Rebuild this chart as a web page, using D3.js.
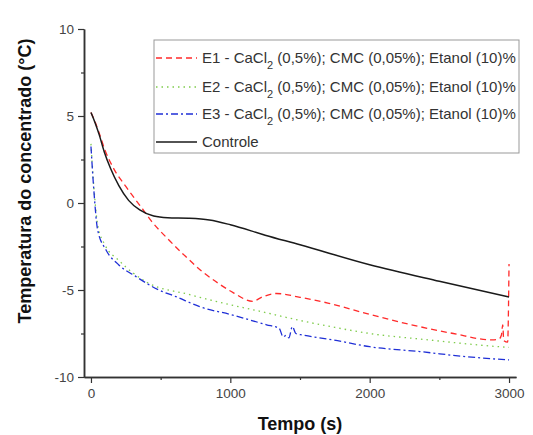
<!DOCTYPE html>
<html>
<head>
<meta charset="utf-8">
<script src="https://cdn.jsdelivr.net/npm/d3@7"></script>
<style>
  body { margin: 0; background: #fff; }
  svg { display: block; font-family: 'Liberation Sans', Arial, sans-serif; }
</style>
</head>
<body>
<svg id="chart" width="533" height="435"></svg>
<script>
// Series: [tempo (s), temperatura (°C)]
const controle = [[0, 5.2], [30, 4.6], [60, 3.9], [95, 2.95], [140, 2.0], [200, 1.0], [270, 0.15], [350, -0.4],
    [450, -0.75], [550, -0.85], [700, -0.88], [850, -0.98], [1000, -1.25], [1250, -1.85], [1500, -2.4],
    [2000, -3.55], [2500, -4.5], [3000, -5.4]];
const e1 = [[0, 5.2], [30, 4.65], [60, 4.0], [100, 3.05], [165, 1.95], [250, 0.95], [380, -0.45], [430, -1.0],
    [550, -2.05], [680, -3.08], [800, -3.95], [920, -4.65], [1020, -5.15], [1160, -5.65], [1230, -5.4],
    [1330, -5.2], [1500, -5.42], [1700, -5.75], [2000, -6.4], [2300, -7.0], [2600, -7.5], [2880, -7.87],
    [2930, -7.8], [2945, -7.6], [2955, -7.0], [2962, -7.9], [2990, -8.0], [3000, -3.5]];
const e2 = [[0, 3.4], [20, 1.0], [50, -1.35], [100, -2.4], [200, -3.3], [400, -4.55], [700, -5.25],
    [1000, -5.85], [1200, -6.2], [1500, -6.75], [1750, -7.15], [2000, -7.5], [2400, -7.85], [2930, -8.26],
    [3000, -8.3]];
const e3 = [[0, 3.25], [20, 0.8], [48, -1.55], [108, -2.7], [200, -3.56], [323, -4.23], [487, -5.0],
    [609, -5.38], [780, -5.96], [1018, -6.44], [1260, -7.0], [1350, -7.2], [1380, -7.7], [1400, -7.6],
    [1420, -7.75], [1445, -7.1], [1470, -7.5], [1520, -7.59], [1740, -7.87], [2000, -8.26], [2360, -8.54],
    [2690, -8.83], [3000, -9.02]];

const seriesNames = ['E1 - CaCl', 'E2 - CaCl', 'E3 - CaCl', 'Controle'];
const legendSuffix = ' (0,5%); CMC (0,05%); Etanol (10)%';
const xTicks = [0, 1000, 2000, 3000];
const xMinorTicks = [500, 1500, 2500];
const yTicks = [-10, -5, 0, 5, 10];
const yMinorTicks = [-7.5, -2.5, 2.5, 7.5];

const svg = d3.select('#chart');
const axisColor = '#333';

const xScale = d3.scaleLinear()
    .domain([-50, 3050])
    .range([84, 516]);

const yScale = d3.scaleLinear()
    .domain([-10, 10])
    .range([377, 29]);

// Axes

const xAxis = d3.axisBottom(xScale)
    .tickValues(xTicks)
    .tickSize(6)
    .tickPadding(5)
    .tickFormat(d => String(d))
    .tickSizeOuter(0);

const xAxisMinor = d3.axisBottom(xScale)
    .tickValues(xMinorTicks)
    .tickSize(3)
    .tickFormat('')
    .tickSizeOuter(0);

const yAxis = d3.axisLeft(yScale)
    .tickValues(yTicks)
    .tickSize(6)
    .tickPadding(4)
    .tickFormat(d => String(d))
    .tickSizeOuter(0);

const yAxisMinor = d3.axisLeft(yScale)
    .tickValues(yMinorTicks)
    .tickSize(3)
    .tickFormat('')
    .tickSizeOuter(0);

svg.append('g')
    .attr('class', 'x-axis')
    .attr('transform', `translate(0,${yScale(-10)})`)
    .call(xAxis);

svg.append('g')
    .attr('class', 'x-axis-minor')
    .attr('transform', `translate(0,${yScale(-10)})`)
    .call(xAxisMinor);

svg.append('g')
    .attr('class', 'y-axis')
    .attr('transform', `translate(${xScale(-50)},0)`)
    .call(yAxis);

svg.append('g')
    .attr('class', 'y-axis-minor')
    .attr('transform', `translate(${xScale(-50)},0)`)
    .call(yAxisMinor);

svg.selectAll('.domain')
    .attr('stroke', axisColor)
    .attr('stroke-width', 1.5);

svg.selectAll('.tick line')
    .attr('stroke', axisColor)
    .attr('stroke-width', 1.2);

svg.selectAll('.tick text')
    .attr('fill', '#444')
    .attr('font-size', '13.5px')
    .attr('font-family', "'Liberation Sans', Arial, sans-serif");

// Lines

const line = d3.line()
    .x(d => xScale(d[0]))
    .y(d => yScale(d[1]))
    .curve(d3.curveMonotoneX);

const styles = [
    { data: e1, color: '#ff2a2a', width: 1.3, dash: '6,4' },
    { data: e2, color: '#7fcc4c', width: 1.3, dash: '1.5,4' },
    { data: e3, color: '#1f2fd6', width: 1.3, dash: '7,3,2,3' },
    { data: controle, color: '#1a1a1a', width: 1.5, dash: null }
];

svg.selectAll('.series')
    .data(styles)
    .enter()
    .append('path')
    .attr('class', 'series')
    .attr('d', d => line(d.data))
    .attr('fill', 'none')
    .attr('stroke', d => d.color)
    .attr('stroke-width', d => d.width)
    .attr('stroke-dasharray', d => d.dash);

// Legend

const legendGroup = svg.append('g')
    .attr('class', 'legend-group')
    .attr('transform', 'translate(154,40)');

legendGroup.append('rect')
    .attr('width', 365)
    .attr('height', 113)
    .attr('fill', 'white')
    .attr('stroke', '#999')
    .attr('stroke-width', 1);

const rowY = [18, 47, 74, 102];

styles.forEach((s, i) => {
    legendGroup.append('line')
        .attr('x1', 2)
        .attr('x2', 43)
        .attr('y1', rowY[i])
        .attr('y2', rowY[i])
        .attr('stroke', s.color)
        .attr('stroke-width', s.width)
        .attr('stroke-dasharray', s.dash);

    const label = legendGroup.append('text')
        .attr('x', 48)
        .attr('y', rowY[i] + 5)
        .attr('fill', '#333')
        .attr('font-size', '15px')
        .text(seriesNames[i]);

    if (i < 3) {
        label.append('tspan')
            .attr('baseline-shift', 'sub')
            .attr('font-size', '11px')
            .text('2');
        label.append('tspan')
            .text(legendSuffix);
    }
});

// Axis labels

svg.append('text')
    .attr('class', 'x-axis-label')
    .attr('text-anchor', 'middle')
    .attr('x', 300)
    .attr('y', 430)
    .attr('fill', '#111')
    .attr('font-size', '18px')
    .attr('font-weight', 'bold')
    .text('Tempo (s)');

svg.append('text')
    .attr('class', 'y-axis-label')
    .attr('text-anchor', 'middle')
    .attr('x', -181)
    .attr('y', 31)
    .attr('transform', 'rotate(-90)')
    .attr('fill', '#111')
    .attr('font-size', '18px')
    .attr('font-weight', 'bold')
    .text('Temperatura do concentrado (°C)');
</script>
</body>
</html>
